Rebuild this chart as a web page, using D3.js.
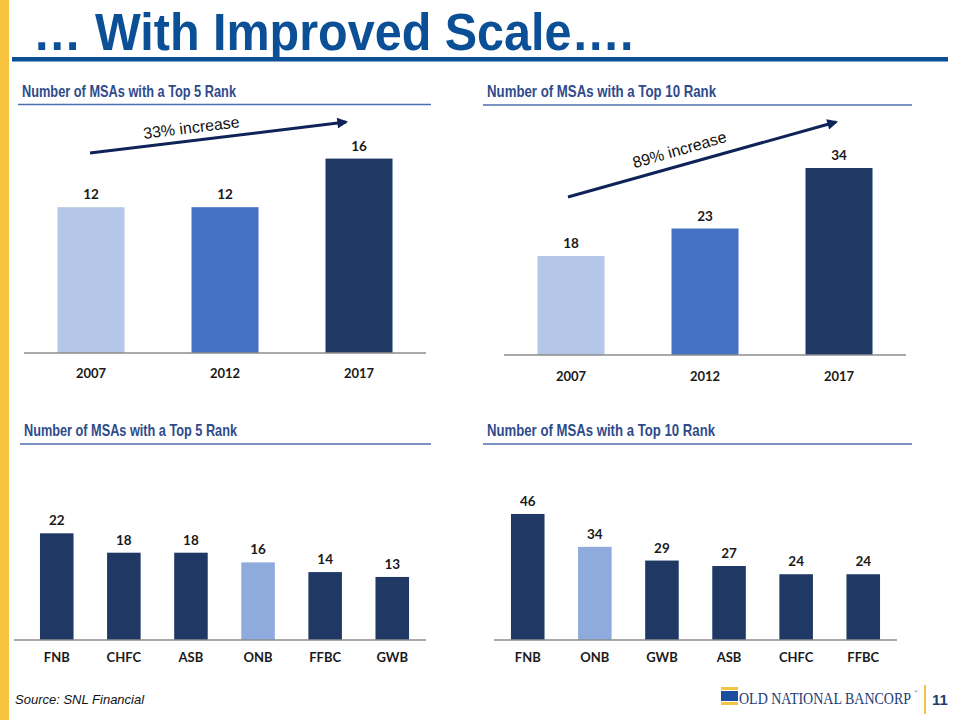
<!DOCTYPE html>
<html>
<head>
<meta charset="utf-8">
<script src="https://cdn.jsdelivr.net/npm/d3@7"></script>
<style>
  html, body { margin: 0; padding: 0; background: #fff; }
  svg { display: block; }
</style>
</head>
<body>
<svg id="chart" width="960" height="720"></svg>
<script>
// ---------------- DATA ----------------
const yearCategories = ["2007", "2012", "2017"];
const top5ByYear = [12, 12, 16];
const top10ByYear = [18, 23, 34];

const top5Banks = ["FNB", "CHFC", "ASB", "ONB", "FFBC", "GWB"];
const top5Values = [22, 18, 18, 16, 14, 13];

const top10Banks = ["FNB", "ONB", "GWB", "ASB", "CHFC", "FFBC"];
const top10Values = [46, 34, 29, 27, 24, 24];

const panelTitleTop5 = "Number of MSAs with a Top 5 Rank";
const panelTitleTop10 = "Number of MSAs with a Top 10 Rank";
const increaseLabels = ["33% increase", "89% increase"];

// ---------------- STYLE ----------------
const yearColors = ["#B4C7E7", "#4472C4", "#203864"];
const navy = "#203864";
const onbColor = "#8FAADC";
const titleBlue = "#0B4F96";
const panelTitleColor = "#2F4B8C";
const labelFont = "Lato, 'Open Sans', sans-serif";

const svg = d3.select("#chart");

// Left yellow strip
svg.append("rect").attr("x", 0).attr("y", 0).attr("width", 9).attr("height", 720).attr("fill", "#F8C440");

// Main title
svg.append("text")
  .attr("transform", "translate(33,50) scale(1,1.06)")
  .attr("font-family", "'Liberation Sans', Arial, sans-serif")
  .attr("font-weight", "bold")
  .attr("font-size", 48.5)
  .attr("fill", titleBlue)
  .text("… With Improved Scale….");
svg.append("rect").attr("x", 12).attr("y", 57).attr("width", 936).attr("height", 4.5).attr("fill", titleBlue);

function panelTitle(text, x, y, len, lineX0, lineX1, lineY) {
  svg.append("text")
    .attr("x", x).attr("y", y)
    .attr("font-family", "'Liberation Sans Narrow', 'Arial Narrow', 'Liberation Sans', sans-serif")
    .attr("font-weight", "bold")
    .attr("font-size", 16.5)
    .attr("fill", panelTitleColor)
    .attr("textLength", len)
    .attr("lengthAdjust", "spacingAndGlyphs")
    .text(text);
  svg.append("line")
    .attr("x1", lineX0).attr("x2", lineX1).attr("y1", lineY).attr("y2", lineY)
    .attr("stroke", "#4E6FAE").attr("stroke-width", 1.6);
}

function barPanel(opts) {
  const g = svg.append("g");
  const x = d3.scaleBand().domain(opts.cats).range(opts.xRange)
    .paddingInner(0.5).paddingOuter(0.25);
  const y = d3.scaleLinear().domain(opts.yDomain).range(opts.yRange);
  const data = opts.cats.map((c, i) => ({ c, v: opts.values[i], i }));

  g.selectAll("rect.bar").data(data).enter().append("rect")
    .attr("class", "bar")
    .attr("x", d => x(d.c))
    .attr("width", x.bandwidth())
    .attr("y", d => y(d.v))
    .attr("height", d => y(0) - y(d.v))
    .attr("fill", d => opts.color(d));

  g.selectAll("text.val").data(data).enter().append("text")
    .attr("class", "val")
    .attr("x", d => x(d.c) + x.bandwidth() / 2)
    .attr("y", d => y(d.v) - 8)
    .attr("text-anchor", "middle")
    .attr("font-family", labelFont)
    .attr("font-weight", "bold")
    .attr("font-size", 13.5)
    .attr("fill", "#1a1a1a")
    .text(d => d.v);

  // axis
  const axis = d3.axisBottom(x).tickSize(0).tickPadding(opts.tickPad);
  const ag = g.append("g").attr("transform", `translate(0,${y(0)})`).call(axis);
  ag.select(".domain").remove();
  ag.append("line")
    .attr("x1", opts.axisX[0]).attr("x2", opts.axisX[1])
    .attr("y1", 0).attr("y2", 0)
    .attr("stroke", "#8C8C8C").attr("stroke-width", 1.5);
  ag.selectAll(".tick text")
    .attr("font-family", labelFont)
    .attr("font-weight", "bold")
    .attr("font-size", 13)
    .attr("fill", "#1a1a1a");
  return { x, y };
}

// defs arrowhead
const defs = svg.append("defs");
defs.append("marker")
  .attr("id", "arrowhead")
  .attr("viewBox", "0 0 10 10")
  .attr("refX", 8).attr("refY", 5)
  .attr("markerWidth", 4.2).attr("markerHeight", 3.6)
  .attr("markerUnits", "strokeWidth")
  .attr("orient", "auto")
  .append("path").attr("d", "M0,0 L10,5 L0,10 Z").attr("fill", "#0E2357");

function arrow(x1, y1, x2, y2, label, tx, ty, angle) {
  svg.append("line")
    .attr("x1", x1).attr("y1", y1).attr("x2", x2).attr("y2", y2)
    .attr("stroke", "#0E2357").attr("stroke-width", 3)
    .attr("marker-end", "url(#arrowhead)");
  svg.append("text")
    .attr("transform", `translate(${tx},${ty}) rotate(${angle})`)
    .attr("text-anchor", "middle")
    .attr("font-family", "'Liberation Sans', Arial, sans-serif")
    .attr("font-size", 16)
    .attr("fill", "#111")
    .text(label);
}

// ---- Panel 1 ----
panelTitle(panelTitleTop5, 22, 97, 214, 18, 431, 104.5);
barPanel({
  cats: yearCategories, values: top5ByYear,
  xRange: [24, 426], axisX: [24, 426],
  yDomain: [0, 20], yRange: [353, 110],
  tickPad: 16,
  color: d => yearColors[d.i]
});
arrow(90, 153, 346, 122, increaseLabels[0], 192, 133, -7);

// ---- Panel 2 ----
panelTitle(panelTitleTop10, 487, 97, 229, 483, 912, 105);
barPanel({
  cats: yearCategories, values: top10ByYear,
  xRange: [504, 906], axisX: [504, 906],
  yDomain: [0, 40], yRange: [355, 135],
  tickPad: 17,
  color: d => yearColors[d.i]
});
arrow(568, 197, 836, 122, increaseLabels[1], 681, 155, -16);

// ---- Panel 3 ----
panelTitle(panelTitleTop5, 24, 436, 213, 20, 431, 444);
barPanel({
  cats: top5Banks, values: top5Values,
  xRange: [23.2, 425.8], axisX: [14, 426],
  yDomain: [0, 30], yRange: [640, 494.5],
  tickPad: 13,
  color: d => d.c === "ONB" ? onbColor : navy
});

// ---- Panel 4 ----
panelTitle(panelTitleTop10, 487, 436, 228, 483, 912, 444);
barPanel({
  cats: top10Banks, values: top10Values,
  xRange: [494.2, 896.8], axisX: [494, 897],
  yDomain: [0, 60], yRange: [640, 475.6],
  tickPad: 13,
  color: d => d.c === "ONB" ? onbColor : navy
});

// ---- Footer ----
svg.append("text")
  .attr("x", 15).attr("y", 704)
  .attr("font-family", "'Liberation Sans', Arial, sans-serif")
  .attr("font-style", "italic")
  .attr("font-size", 13)
  .attr("fill", "#111")
  .text("Source: SNL Financial");

// logo icon
svg.append("rect").attr("x", 721).attr("y", 687).attr("width", 17).attr("height", 3).attr("fill", "#F5C342");
svg.append("rect").attr("x", 721).attr("y", 691).attr("width", 17).attr("height", 10).attr("fill", "#1B4E9B");
svg.append("rect").attr("x", 721).attr("y", 702).attr("width", 17).attr("height", 3).attr("fill", "#F5C342");
svg.append("text")
  .attr("transform", "translate(739,704) scale(1,1.2)")
  .attr("font-family", "'Liberation Serif', 'Times New Roman', serif")
  .attr("font-size", 14)
  .attr("fill", "#1D3C73")
  .text("OLD NATIONAL BANCORP");
svg.append("text")
  .attr("x", 914).attr("y", 693)
  .attr("font-family", "'Liberation Serif', serif")
  .attr("font-size", 5)
  .attr("fill", "#1D3C73")
  .text("®");
svg.append("rect").attr("x", 924).attr("y", 685).attr("width", 2).attr("height", 29).attr("fill", "#F5C342");
svg.append("text")
  .attr("x", 932).attr("y", 705)
  .attr("font-family", "'Liberation Sans', Arial, sans-serif")
  .attr("font-weight", "bold")
  .attr("font-size", 15)
  .attr("fill", "#1D3C73")
  .text("11");
</script>
</body>
</html>
